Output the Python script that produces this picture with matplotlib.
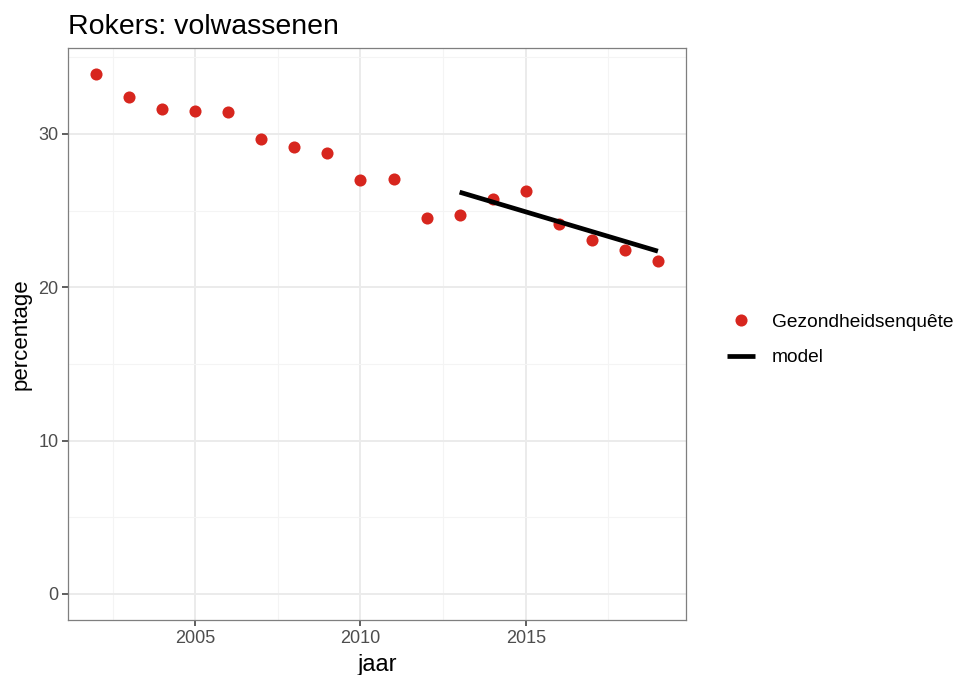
import matplotlib
matplotlib.use("Agg")
import matplotlib.pyplot as plt
from matplotlib.lines import Line2D
from matplotlib.ticker import MultipleLocator

plt.rcParams['font.family'] = ['Liberation Sans', 'DejaVu Sans']

years = [2002, 2003, 2004, 2005, 2006, 2007, 2008, 2009, 2010, 2011,
         2012, 2013, 2014, 2015, 2016, 2017, 2018, 2019]
percentage = [33.9, 32.4, 31.65, 31.5, 31.4, 29.65, 29.15, 28.75, 27.0, 27.05,
              24.5, 24.7, 25.75, 26.3, 24.15, 23.05, 22.4, 21.7]
model_years = [2013, 2019]
model_values = [26.2, 22.35]

W, H = 958, 675
fig = plt.figure(figsize=(W/100, H/100), dpi=100)
l, r, t, b = 68, 686, 48, 620
ax = fig.add_axes([l/W, 1-b/H, (r-l)/W, (b-t)/H])

ax.set_xlim(2001.15, 2019.85)
ax.set_ylim(-1.7, 35.6)
ax.xaxis.set_major_locator(MultipleLocator(5))
ax.xaxis.set_minor_locator(MultipleLocator(2.5))
ax.yaxis.set_major_locator(MultipleLocator(10))
ax.yaxis.set_minor_locator(MultipleLocator(5))
ax.grid(which='major', color='#EBEBEB', linewidth=1.4, zorder=0)
ax.grid(which='minor', color='#F4F4F4', linewidth=0.8, zorder=0)
ax.set_axisbelow(True)
for s in ax.spines.values():
    s.set_color('#7F7F7F')
    s.set_linewidth(0.9)
ax.tick_params(which='major', length=4, width=1.1, color='#333333',
               labelsize=13, labelcolor='#4D4D4D', pad=3)
ax.tick_params(which='minor', length=0)

ax.plot(years, percentage, 'o', color='#D7261E', markersize=8.7,
        markeredgewidth=0, zorder=3)
ax.plot(model_years, model_values, '-', color='black', linewidth=3.4,
        solid_capstyle='butt', zorder=4)

ax.set_xlabel('jaar', fontsize=17, labelpad=5)
ax.set_ylabel('percentage', fontsize=16, labelpad=5)
ax.set_title('Rokers: volwassenen', fontsize=20.5, loc='left', pad=10, x=0.0)

handles = [Line2D([], [], marker='o', color='#D7261E', linestyle='None',
                  markersize=8.7, markeredgewidth=0),
           Line2D([], [], color='black', linewidth=3.4, solid_capstyle='butt')]
leg = fig.legend(handles, ['Gezondheidsenquête', 'model'],
                 loc='center left', bbox_to_anchor=(727/W, 1-340/H),
                 frameon=False, fontsize=13.8, handlelength=1.45,
                 handletextpad=0.9, labelspacing=0.92,
                 borderpad=0, borderaxespad=0)

fig.savefig('out.png', dpi=100)
